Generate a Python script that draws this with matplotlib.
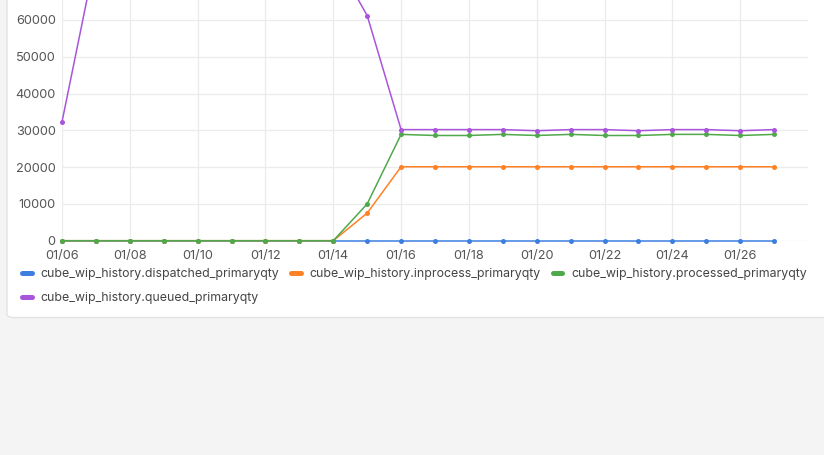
import matplotlib
matplotlib.use("Agg")
import matplotlib.pyplot as plt
from matplotlib.patches import FancyBboxPatch
from matplotlib.lines import Line2D
import pandas as pd

plt.rcParams['font.family'] = ['Inter', 'DejaVu Sans']

# ── data ────────────────────────────────────────────────────────────────
dates = pd.date_range("2025-01-06", "2025-01-27", freq="D")

dispatched = [0] * 22
inprocess = [0, 0, 0, 0, 0, 0, 0, 0, 0, 7500,
             20100, 20100, 20100, 20100, 20100, 20100, 20100, 20100, 20100, 20100, 20100, 20100]
processed = [0, 0, 0, 0, 0, 0, 0, 0, 0, 10000,
             28900, 28600, 28600, 28900, 28600, 28900, 28600, 28600, 28900, 28900, 28600, 28900]
queued = [32300, 77500, 77500, 77500, 77500, 77500, 77500, 77500, 77500, 61200,
          30200, 30200, 30200, 30200, 29900, 30200, 30200, 29900, 30200, 30200, 29900, 30200]

series = [
    ("cube_wip_history.dispatched_primaryqty", dispatched, "#3d7fe0"),
    ("cube_wip_history.inprocess_primaryqty", inprocess, "#ff8125"),
    ("cube_wip_history.processed_primaryqty", processed, "#4fa84a"),
    ("cube_wip_history.queued_primaryqty", queued, "#a855dc"),
]

y_ticks = [0, 10000, 20000, 30000, 40000, 50000, 60000]
x_ticks = pd.date_range("2025-01-06", "2025-01-26", freq="2D")

# ── figure ──────────────────────────────────────────────────────────────
W, H = 824, 455
fig = plt.figure(figsize=(W / 100, H / 100), dpi=100)
fig.patch.set_facecolor("#f3f4f3")

# white card behind everything
card = FancyBboxPatch((7 / W, 1 - 317.5 / H), 1.2, 317.5 / H + 0.1,
                      boxstyle="round,pad=0,rounding_size=0.008",
                      transform=fig.transFigure, facecolor="white",
                      edgecolor="#e2e4e4", linewidth=1.0, zorder=-10)
fig.patches.append(card)

ax = fig.add_axes([62 / W, 1 - 240.7 / H, (808 - 62) / W, 240.7 / H])
ax.set_facecolor("none")

for name, vals, col in series:
    ax.plot(dates, vals, color=col, lw=1.1, marker="o", ms=3.6,
            markeredgewidth=0, label=name, zorder=3)

ax.set_xlim(pd.Timestamp("2025-01-06"), pd.Timestamp("2025-01-28"))
ax.set_ylim(0, 65430)
ax.set_yticks(y_ticks)
ax.set_xticks(x_ticks)
ax.set_xticklabels([d.strftime("%m/%d") for d in x_ticks])

ax.grid(True, color="#ebebeb", lw=0.9)
ax.set_axisbelow(True)
for s in ax.spines.values():
    s.set_visible(False)
ax.tick_params(length=0, labelsize=9.2, colors="#555555", pad=6.5)
ax.tick_params(axis="y", pad=4.5)

# markers sitting on y=0 shouldn't be cut in half
for line in ax.get_lines():
    line.set_clip_on(False)

# legend, row-wise order (matplotlib fills columns first)
order = [0, 3, 1, 2]
handles = [Line2D([0], [0], color=series[i][2], lw=3.6, solid_capstyle="round")
           for i in order]
labels = [series[i][0] for i in order]
fig.legend(handles, labels, loc="upper left",
           bbox_to_anchor=(22 / W, 1 - 268 / H), ncol=3, frameon=False,
           fontsize=8.9, handlelength=0.8, handletextpad=0.7,
           columnspacing=0.95, labelspacing=1.0, labelcolor="#444444",
           borderaxespad=0, borderpad=0)

fig.savefig("out.png", dpi=100, facecolor=fig.get_facecolor())
